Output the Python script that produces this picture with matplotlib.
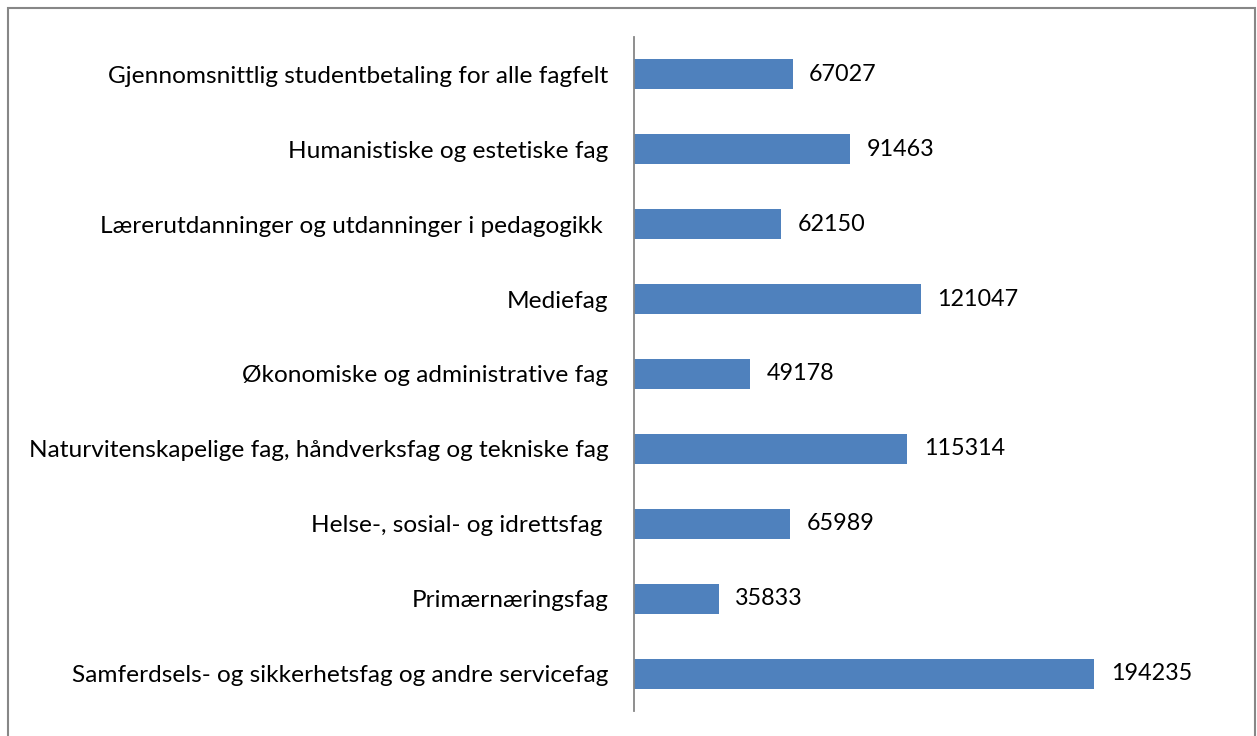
import matplotlib.pyplot as plt
from matplotlib.patches import Rectangle

categories = [
    "Gjennomsnittlig studentbetaling for alle fagfelt",
    "Humanistiske og estetiske fag",
    "Lærerutdanninger og utdanninger i pedagogikk ",
    "Mediefag",
    "Økonomiske og administrative fag",
    "Naturvitenskapelige fag, håndverksfag og tekniske fag",
    "Helse-, sosial- og idrettsfag ",
    "Primærnæringsfag",
    "Samferdsels- og sikkerhetsfag og andre servicefag",
]
values = [67027, 91463, 62150, 121047, 49178, 115314, 65989, 35833, 194235]

plt.rcParams['font.family'] = ['Lato', 'DejaVu Sans']

fig = plt.figure(figsize=(12.57, 7.36), dpi=100)
ax = fig.add_axes([633.5 / 1257, 1 - 711 / 736, (1230 - 633.5) / 1257, 674 / 736])

pos = list(range(len(categories)))
bars = ax.barh(pos, values, height=0.4, color='#4F81BD')
ax.bar_label(bars, labels=[str(v) for v in values], padding=12, fontsize=16.8)

ax.set_ylim(len(categories) - 0.5, -0.5)
ax.set_xlim(0, 251430)
ax.set_yticks(pos)
ax.set_yticklabels(categories, fontsize=17.6)
ax.tick_params(axis='y', length=0, pad=18)
ax.set_xticks([])
for s in ['top', 'right', 'bottom']:
    ax.spines[s].set_visible(False)
ax.spines['left'].set_color('#868686')
ax.spines['left'].set_linewidth(1.3)

fig.patches.append(Rectangle((7.5 / 1257, -0.05), (1255 - 7.5) / 1257, 1.05 - 7.5 / 736,
                             transform=fig.transFigure, fill=False,
                             edgecolor='#878787', linewidth=1.5))

fig.savefig('out.png', dpi=100)
